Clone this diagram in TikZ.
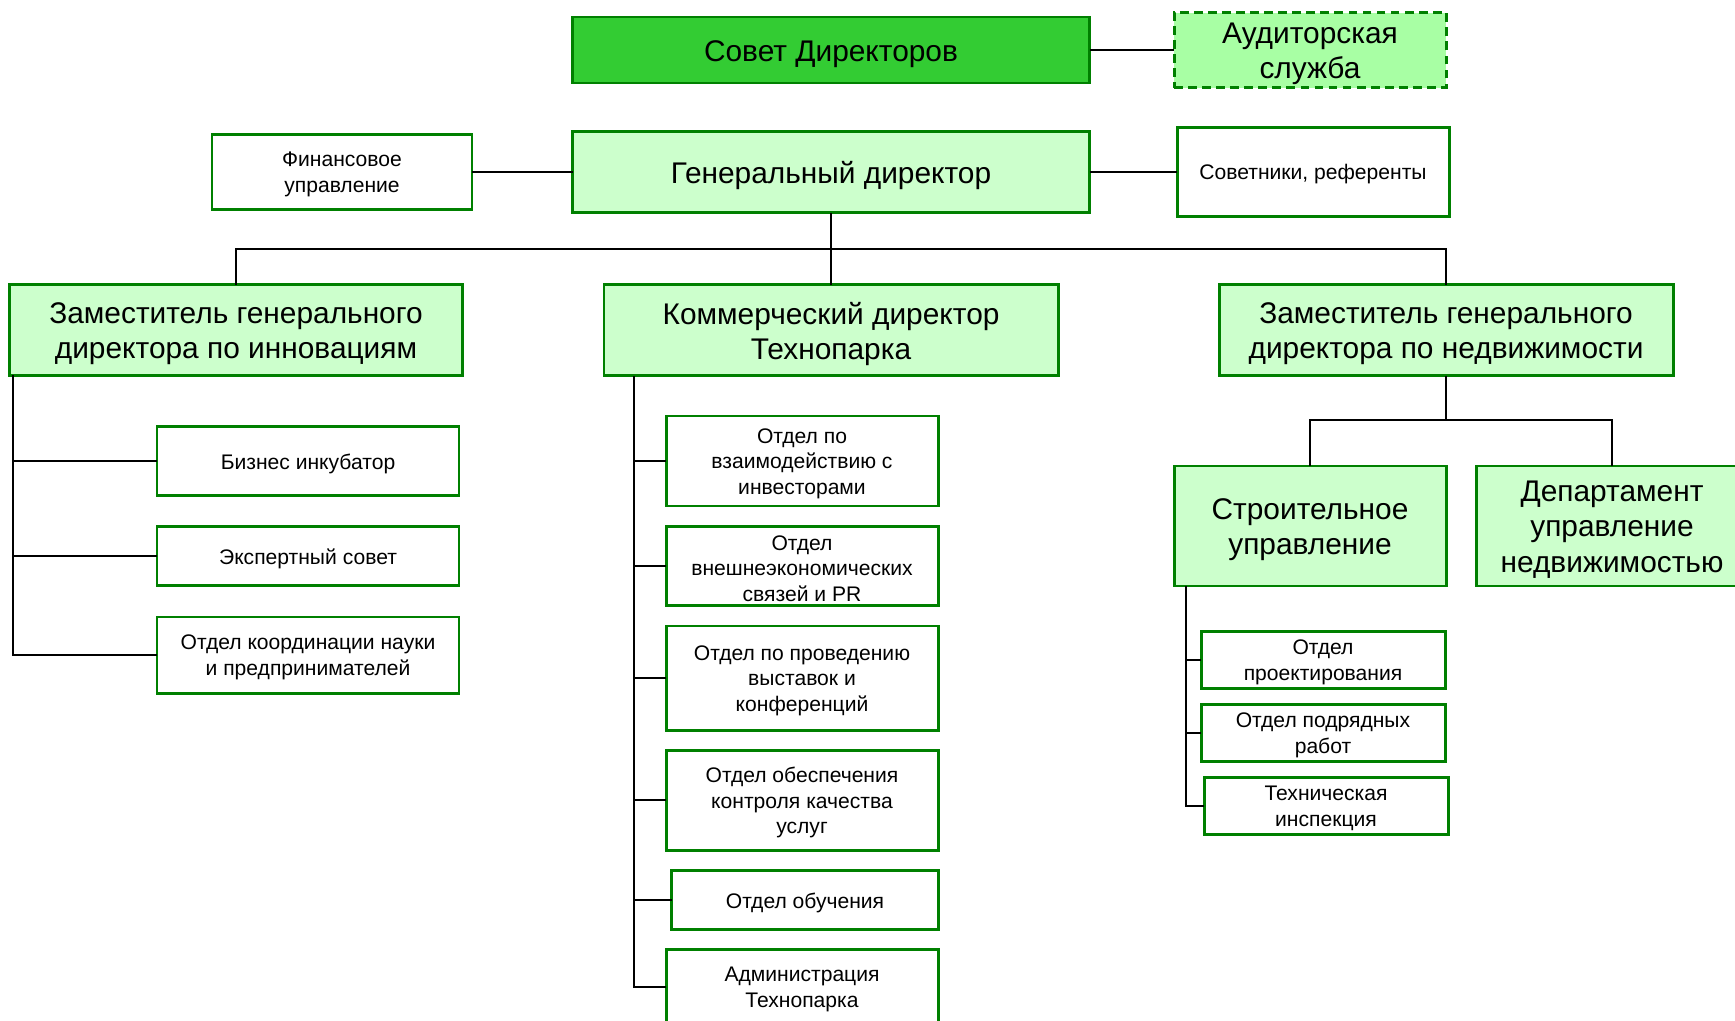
\documentclass[tikz,border=0pt]{standalone}
\usepackage{fontspec}
\setmainfont{Liberation Sans}
\definecolor{bordergreen}{RGB}{0,128,0}
\definecolor{sovetgreen}{RGB}{51,204,51}
\definecolor{auditgreen}{RGB}{168,255,164}
\definecolor{lightgreen}{RGB}{204,255,204}
\tikzset{
  box/.style={draw=bordergreen, line width=1.7pt, fill=white,
    inner sep=0pt, outer sep=0pt},
  bigbox/.style={box, fill=lightgreen},
  txt/.style={align=center, inner sep=0pt, yshift=-1.4pt,
    font=\fontsize{12}{14.5}\selectfont},
  bigtxt/.style={txt, yshift=-0.7pt, font=\fontsize{17}{20}\selectfont},
  sz/.style 2 args={minimum width=#1*0.02cm, minimum height=#2*0.02cm},
  link/.style={draw=black, line width=1.1pt}
}
\begin{document}
\begin{tikzpicture}[x=0.02cm, y=-0.02cm]
  \useasboundingbox (0,0) rectangle (1735,1021);
  \clip (0,0) rectangle (1735,1021);

  % top level
  \node[bigbox, fill=sovetgreen, sz={517}{66}, label={[bigtxt]center:Совет Директоров}] (sovet) at (831,50) {};
  \node[bigbox, fill=auditgreen, dash pattern=on 5pt off 3pt, sz={272}{75},
    label={[bigtxt]center:Аудиторская\\служба}] (audit) at (1310,50) {};
  \node[box, sz={260}{75}, label={[txt]center:Финансовое\\управление}] (fin) at (342,172) {};
  \node[bigbox, sz={517}{81}, label={[bigtxt]center:Генеральный директор}] (gendir) at (831,172) {};
  \node[box, sz={272}{89}, label={[txt]center:Советники, референты}] (advisors) at (1313,172) {};

  % deputies
  \node[bigbox, sz={453}{91}, label={[bigtxt]center:Заместитель генерального\\директора по инновациям}] (zamInn) at (236,330) {};
  \node[bigbox, sz={454}{91}, label={[bigtxt]center:Коммерческий директор\\Технопарка}] (komDir) at (831,330) {};
  \node[bigbox, sz={454}{91}, label={[bigtxt]center:Заместитель генерального\\директора по недвижимости}] (zamNed) at (1446,330) {};

  % innovations
  \node[box, sz={302}{69}, label={[txt]center:Бизнес инкубатор}] (biz) at (308,461) {};
  \node[box, sz={302}{59}, label={[txt]center:Экспертный совет}] (expert) at (308,556) {};
  \node[box, sz={302}{76}, label={[txt]center:Отдел координации науки\\и предпринимателей}] (koord) at (308,655) {};

  % commercial
  \node[box, sz={272}{90}, label={[txt]center:Отдел по\\взаимодействию с\\инвесторами}] (kom1) at (802,461) {};
  \node[box, sz={272}{79}, label={[txt]center:Отдел\\внешнеэкономических\\связей и PR}] (kom2) at (802,566) {};
  \node[box, sz={272}{104}, label={[txt]center:Отдел по проведению\\выставок и\\конференций}] (kom3) at (802,678) {};
  \node[box, sz={272}{100}, label={[txt]center:Отдел обеспечения\\контроля качества\\услуг}] (kom4) at (802,800) {};
  \node[box, sz={267}{59}, label={[txt]center:Отдел обучения}] (kom5) at (805,900) {};
  \node[box, sz={272}{76}, label={[txt]center:Администрация\\Технопарка}] (kom6) at (802,987) {};

  % real estate
  \node[bigbox, sz={272}{120}, label={[bigtxt]center:Строительное\\управление}] (stroy) at (1310,526) {};
  \node[bigbox, sz={272}{120}, label={[bigtxt]center:Департамент\\управление\\недвижимостью}] (dep) at (1612,526) {};
  \node[box, sz={244}{57}, label={[txt]center:Отдел\\проектирования}] (proekt) at (1323,660) {};
  \node[box, sz={244}{57}, label={[txt]center:Отдел подрядных\\работ}] (podr) at (1323,733) {};
  \node[box, sz={244}{57}, label={[txt]center:Техническая\\инспекция}] (tech) at (1326,806) {};

  % connectors
  \coordinate (bus) at (831,249);
  \coordinate (nedBus) at (1446,420);
  \coordinate (innTop) at (13,375);
  \coordinate (komTop) at (634,376);
  \coordinate (stroyTop) at (1186,586);

  \draw[link] (sovet.east) -- (audit.west);
  \draw[link] (fin.east) -- (gendir.west);
  \draw[link] (gendir.east) -- (advisors.west);
  \draw[link] (gendir.south) -- (komDir.north);
  \draw[link] (zamInn.north) |- (bus) -| (zamNed.north);
  \draw[link] (zamNed.south) -- (nedBus);
  \draw[link] (stroy.north) |- (nedBus) -| (dep.north);

  \foreach \n in {biz,expert,koord}
    \draw[link] (\n.west) -| (innTop);
  \foreach \n in {kom1,kom2,kom3,kom4,kom5,kom6}
    \draw[link] (\n.west) -| (komTop);
  \foreach \n in {proekt,podr,tech}
    \draw[link] (\n.west) -| (stroyTop);
\end{tikzpicture}
\end{document}
